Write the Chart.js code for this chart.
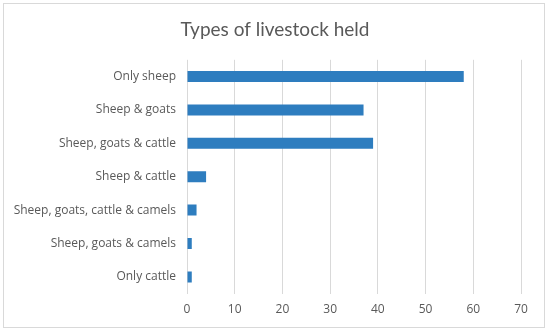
<!DOCTYPE html>
<html>
<head>
<meta charset="utf-8">
<script src="https://cdn.jsdelivr.net/npm/chart.js@4"></script>
<style>
  html, body { margin: 0; padding: 0; background: #fff; }
  #wrap { position: absolute; left: 3px; top: 3px; width: 542px; height: 325px; border: 1px solid #d9d9d9; box-sizing: border-box; }
  canvas { position: absolute; left: 0; top: 0; }
</style>
</head>
<body>
<div id="wrap"></div>
<canvas id="chart" width="550" height="333"></canvas>
<script>
// Data
const categories = [
    'Only sheep',
    'Sheep & goats',
    'Sheep, goats & cattle',
    'Sheep & cattle',
    'Sheep, goats, cattle & camels',
    'Sheep, goats & camels',
    'Only cattle'
];
const counts = [58, 37, 39, 4, 2, 1, 1];
const xTicks = [0, 10, 20, 30, 40, 50, 60, 70];

// centre the title on the whole canvas, not on the padded box
const centerTitle = {
    id: 'centerTitle',
    afterLayout: chart => {
        if (chart.titleBlock) {
            chart.titleBlock.left = 0;
            chart.titleBlock.right = chart.width;
        }
    }
};

const ctx = document.getElementById('chart').getContext('2d');
new Chart(ctx, {
    type: 'bar',
    data: {
        labels: categories,
        datasets: [{
            data: counts,
            backgroundColor: '#2e7dbf',
            categoryPercentage: 1,
            barPercentage: 0.33
        }]
    },
    options: {
        indexAxis: 'y',
        responsive: false,
        animation: false,
        layout: { padding: { left: 8, right: 29, top: 0, bottom: 7 } },
        plugins: {
            legend: { display: false },
            tooltip: { enabled: false },
            title: {
                display: true,
                text: 'Types of livestock held',
                color: '#595959',
                font: { family: 'Lato', size: 19, weight: 'normal' },
                padding: { top: 18, bottom: 19 }
            }
        },
        scales: {
            x: {
                min: 0,
                max: 70,
                afterBuildTicks: axis => { axis.ticks = xTicks.map(v => ({ value: v })); },
                grid: { color: '#d9d9d9', drawTicks: false },
                border: { display: false },
                ticks: { color: '#595959', font: { family: 'Open Sans', size: 12 }, padding: 9 }
            },
            y: {
                grid: { display: false, drawTicks: false },
                border: { display: false },
                afterFit: axis => { axis.width = 179; },
                ticks: { color: '#595959', font: { family: 'Open Sans', size: 12 }, padding: 11 }
            }
        }
    },
    plugins: [centerTitle]
});
</script>
</body>
</html>
